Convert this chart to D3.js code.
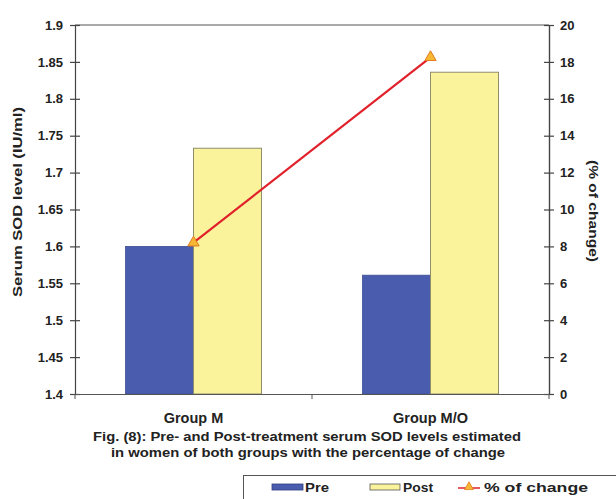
<!DOCTYPE html>
<html><head><meta charset="utf-8">
<script src="https://cdn.jsdelivr.net/npm/d3@7"></script>
<style>
body{margin:0;background:#fff;}
text{font-family:"Liberation Sans",Arial,sans-serif;font-weight:bold;fill:#222;}
</style></head>
<body><svg id="c" width="616" height="499"></svg>
<script>
const categories = ["Group M", "Group M/O"];
const preValues = [1.60, 1.561];
const postValues = [1.733, 1.836];
const pctChange = [8.2, 18.25];
const leftTicks = [1.4, 1.45, 1.5, 1.55, 1.6, 1.65, 1.7, 1.75, 1.8, 1.85, 1.9];
const rightTicks = [0, 2, 4, 6, 8, 10, 12, 14, 16, 18, 20];
const seriesNames = ["Pre", "Post", "% of change"];

const svg = d3.select("#c");
const L = 75, R = 549, T = 25, B = 394;
const x = d3.scaleBand().domain(categories).range([L, R]);
const yL = d3.scaleLinear().domain([1.4, 1.9]).range([B, T]);
const yR = d3.scaleLinear().domain([0, 20]).range([B, T]);
const barW = 68;
const colPre = "#4a5cad", colPost = "#fbf39b", postStroke = "#8f8d6c";

// top border
svg.append("line").attr("x1", L).attr("x2", R).attr("y1", T).attr("y2", T)
  .attr("stroke", "#555").attr("stroke-width", 1);

// bars
const g = svg.append("g");
categories.forEach((c, i) => {
  const cx = x(c) + x.bandwidth() / 2;
  g.append("rect").attr("x", cx - barW).attr("width", barW)
    .attr("y", yL(preValues[i])).attr("height", B - yL(preValues[i]))
    .attr("fill", colPre).attr("stroke", "#3f4f95").attr("stroke-width", 0.8);
  g.append("rect").attr("x", cx).attr("width", barW)
    .attr("y", yL(postValues[i])).attr("height", B - yL(postValues[i]))
    .attr("fill", colPost).attr("stroke", postStroke).attr("stroke-width", 1);
});

// line
const pts = categories.map((c, i) => [x(c) + x.bandwidth() / 2, yR(pctChange[i])]);
svg.append("path").attr("d", d3.line()(pts)).attr("fill", "none")
  .attr("stroke", "#e0202a").attr("stroke-width", 2.2);
const tri = d3.symbol().type(d3.symbolTriangle).size(55);
pts.forEach(p => {
  svg.append("path").attr("d", tri()).attr("transform", `translate(${p[0]},${p[1]})`)
    .attr("fill", "#f7b733").attr("stroke", "#e07a20").attr("stroke-width", 1);
});

// axes
const axL = svg.append("g").attr("transform", `translate(${L},0)`)
  .call(d3.axisLeft(yL).tickValues(leftTicks).tickFormat(d => String(+d.toFixed(2))).tickSize(0).tickPadding(12));
axL.select(".domain").attr("stroke", "#444").attr("stroke-width", 1.2);
axL.selectAll(".tick").append("line").attr("x1", -5).attr("x2", 5).attr("stroke", "#444").attr("stroke-width", 1.2);
axL.selectAll("text").attr("font-size", 13).style("fill", "#222");

const axR = svg.append("g").attr("transform", `translate(${R},0)`)
  .call(d3.axisRight(yR).tickValues(rightTicks).tickSize(0).tickPadding(11));
axR.select(".domain").attr("stroke", "#444").attr("stroke-width", 1.4);
axR.selectAll(".tick").append("line").attr("x1", -5).attr("x2", 5).attr("stroke", "#444").attr("stroke-width", 1.2);
axR.selectAll("text").attr("font-size", 13).style("fill", "#222");

const axB = svg.append("g").attr("transform", `translate(0,${B})`)
  .call(d3.axisBottom(x).tickSize(0).tickPadding(19));
axB.select(".domain").attr("stroke", "#555").attr("stroke-width", 1.2);
axB.selectAll("text").attr("font-size", 14.5).style("fill", "#222");
[L, (L + R) / 2, R].forEach(xx => {
  axB.append("line").attr("x1", xx).attr("x2", xx).attr("y1", 0).attr("y2", 5)
    .attr("stroke", "#555").attr("stroke-width", 1);
});

// axis titles
svg.append("text").attr("transform", "translate(22,202) rotate(-90)")
  .attr("text-anchor", "middle").attr("font-size", 13)
  .attr("textLength", 190).attr("lengthAdjust", "spacingAndGlyphs").text("Serum SOD level (IU/ml)");
svg.append("text").attr("transform", "translate(589,211) rotate(90)")
  .attr("text-anchor", "middle").attr("font-size", 13)
  .attr("textLength", 102).attr("lengthAdjust", "spacingAndGlyphs").text("(% of change)");

// caption
svg.append("text").attr("x", 307).attr("y", 441).attr("text-anchor", "middle")
  .attr("font-size", 13).attr("textLength", 428).attr("lengthAdjust", "spacingAndGlyphs")
  .text("Fig. (8): Pre- and Post-treatment serum SOD levels estimated");
svg.append("text").attr("x", 308).attr("y", 457).attr("text-anchor", "middle")
  .attr("font-size", 13).attr("textLength", 394).attr("lengthAdjust", "spacingAndGlyphs")
  .text("in women of both groups with the percentage of change");

// legend
const lg = svg.append("g");
lg.append("rect").attr("x", 243.5).attr("y", 475.5).attr("width", 380).attr("height", 30)
  .attr("fill", "#fff").attr("stroke", "#555").attr("stroke-width", 1);
const ly = 487;
lg.append("rect").attr("x", 272).attr("y", ly - 3).attr("width", 31).attr("height", 6)
  .attr("fill", colPre).attr("stroke", "#2f3c80").attr("stroke-width", 0.8);
lg.append("text").attr("x", 305).attr("y", ly + 5).attr("font-size", 13)
  .attr("textLength", 24).attr("lengthAdjust", "spacingAndGlyphs").text(seriesNames[0]);
lg.append("rect").attr("x", 370).attr("y", ly - 3).attr("width", 30).attr("height", 6)
  .attr("fill", colPost).attr("stroke", "#555").attr("stroke-width", 0.8);
lg.append("text").attr("x", 403).attr("y", ly + 5).attr("font-size", 13)
  .attr("textLength", 30).attr("lengthAdjust", "spacingAndGlyphs").text(seriesNames[1]);
lg.append("line").attr("x1", 458).attr("x2", 480).attr("y1", ly + 1).attr("y2", ly + 1)
  .attr("stroke", "#e0202a").attr("stroke-width", 1.5);
lg.append("path").attr("d", d3.symbol().type(d3.symbolTriangle).size(35)())
  .attr("transform", `translate(469,${ly})`).attr("fill", "#f7b733").attr("stroke", "#e07a20").attr("stroke-width", 0.8);
lg.append("text").attr("x", 484).attr("y", ly + 5).attr("font-size", 13)
  .attr("textLength", 104).attr("lengthAdjust", "spacingAndGlyphs").text(seriesNames[2]);
</script></body></html>
